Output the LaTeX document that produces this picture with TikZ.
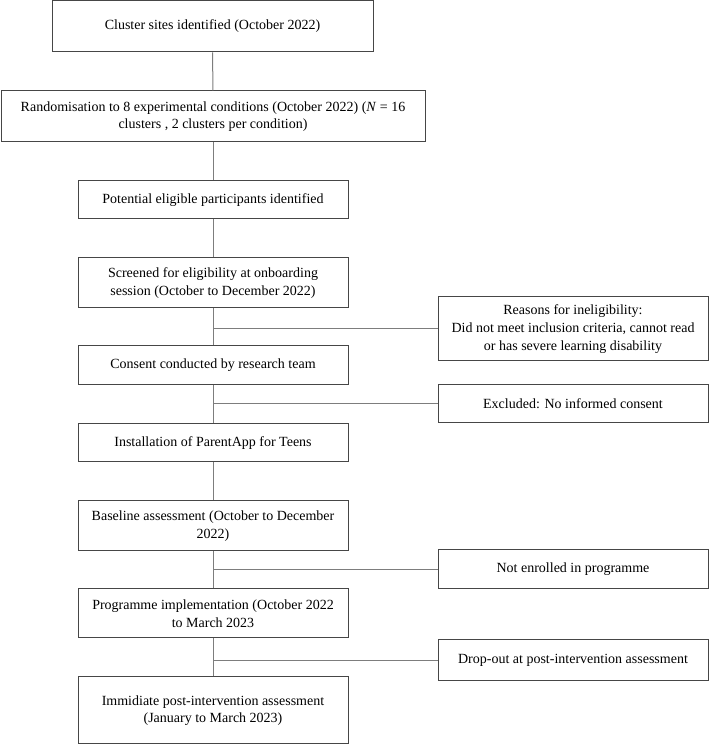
\documentclass[tikz,border=0pt]{standalone}
\usepackage{fontspec}
\setmainfont{Liberation Serif}
\definecolor{boxline}{RGB}{70,70,70}
\definecolor{connline}{RGB}{125,125,125}
\begin{document}
\begin{tikzpicture}[x=1pt,y=1pt,
  box/.style={draw=boxline, line width=1pt, rectangle, inner sep=0pt, align=center,
    font=\fontsize{14}{17.6}\selectfont, minimum width=270, text=black},
  conn/.style={draw=connline, line width=1pt}]
\useasboundingbox (0,0) rectangle (709,745);
\node[box, minimum width=321, minimum height=51] (b1) at (212.5,718.5) {Cluster sites identified (October 2022)};
\node[box, minimum width=424, minimum height=51] (b2) at (213,628.5) {Randomisation to 8 experimental conditions (October 2022) (\textit{N} = 16\\clusters , 2 clusters per condition)};
\node[box, minimum height=38] (b3) at (213,545) {Potential eligible participants identified};
\node[box, minimum height=50] (b4) at (213,462) {Screened for eligibility at onboarding\\session (October to December 2022)};
\node[box, minimum height=64] (b5) at (573,416) {Reasons for ineligibility:\\Did not meet inclusion criteria, cannot read\\or has severe learning disability};
\node[box, minimum height=39] (b6) at (213,379.5) {Consent conducted by research team};
\node[box, minimum height=38] (b7) at (573,341) {Excluded: No informed consent};
\node[box, minimum height=38] (b8) at (213,302) {Installation of ParentApp for Teens};
\node[box, minimum height=50] (b9) at (213,219) {Baseline assessment (October to December\\2022)};
\node[box, minimum height=39] (b10) at (573,175.5) {Not enrolled in programme};
\node[box, minimum height=49] (b11) at (213,131.5) {Programme implementation (October 2022\\to March 2023};
\node[box, minimum height=41] (b12) at (573,84.5) {Drop-out at post-intervention assessment};
\node[box, minimum height=67] (b13) at (213,34.5) {Immidiate post-intervention assessment\\(January to March 2023)};
\draw[conn] (b1.south) -- (b2.north);
\draw[conn] (b2.south) -- (b3.north);
\draw[conn] (b3.south) -- (b4.north);
\draw[conn] (b4.south) -- (b6.north);
\draw[conn] (b6.south) -- (b8.north);
\draw[conn] (b8.south) -- (b9.north);
\draw[conn] (b9.south) -- (b11.north);
\draw[conn] (b11.south) -- (b13.north);
\draw[conn] (b5.west) -- (b5.west -| b4.south);
\draw[conn] (b7.west) -- (b7.west -| b6.south);
\draw[conn] (b10.west) -- (b10.west -| b9.south);
\draw[conn] (b12.west) -- (b12.west -| b11.south);
\end{tikzpicture}
\end{document}
